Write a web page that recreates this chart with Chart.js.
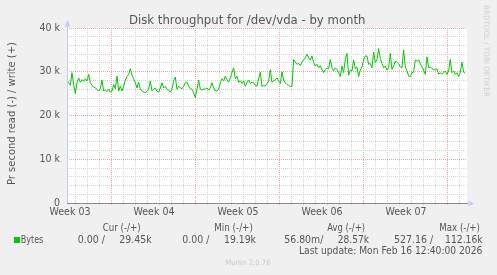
<!DOCTYPE html>
<html>
<head>
<meta charset="utf-8">
<script src="https://cdn.jsdelivr.net/npm/chart.js@4.4.1/dist/chart.umd.min.js"></script>
<style>
html,body{margin:0;padding:0;background:#F0F0F0;}
canvas{display:block;}
</style>
</head>
<body>
<canvas id="c" width="497" height="275"></canvas>
<script>
// ---- data (write throughput, thousands of bytes per second, one sample every ~3.33 h) ----
const stepHours = 3.333;
const spanHours = 800;
const writeK = [
28.1,27.5,26.9,29.8,27.1,25.0,27.5,28.6,27.6,28.2,
27.8,28.4,27.9,29.4,27.5,26.9,26.5,26.3,26.0,25.6,
26.1,28.1,25.6,25.8,25.5,26.0,25.35,25.6,27.1,26.1,
29.0,25.6,26.7,25.6,26.6,28.1,28.9,29.4,30.7,29.2,
28.4,27.5,26.3,27.6,26.0,25.6,25.4,25.2,25.6,26.0,
27.9,25.6,26.0,26.3,25.6,25.35,26.3,27.5,26.3,26.7,
26.0,25.8,25.35,26.0,27.9,28.8,26.0,26.7,26.3,26.1,
26.7,27.5,27.6,26.7,26.1,26.0,25.2,24.1,26.0,28.1,
26.0,25.8,26.1,26.0,26.3,25.8,26.3,27.5,26.3,25.6,
25.6,26.0,27.5,28.4,27.9,29.0,28.2,27.6,28.6,29.8,
30.9,28.4,29.0,27.6,27.9,27.3,27.9,26.7,27.5,28.1,
27.3,27.6,27.5,26.9,26.7,28.4,29.9,26.6,26.9,26.7,
27.3,27.9,30.5,27.6,27.9,28.2,28.6,27.9,27.3,30.0,
28.1,27.5,27.1,26.9,26.6,26.7,32.8,32.2,31.7,31.9,
31.4,32.2,32.7,33.2,34.0,33.2,32.7,33.6,32.1,31.3,
31.7,30.9,31.4,30.5,29.8,30.5,30.9,30.7,32.8,30.9,
30.2,30.9,30.5,29.8,28.9,31.3,29.8,32.8,34.2,29.2,
30.4,30.2,32.7,30.7,31.1,28.9,30.4,31.1,32.7,33.6,
33.6,31.7,31.9,30.9,34.5,32.1,32.7,35.3,33.0,31.9,
30.9,31.3,30.4,30.9,34.2,30.5,31.3,32.4,32.2,31.9,
31.1,30.9,35.0,31.1,30.2,29.0,28.9,29.8,29.9,32.7,
32.4,32.7,31.9,31.1,30.4,29.4,33.4,30.9,31.1,30.7,
30.5,30.4,30.7,29.4,29.8,29.4,29.8,30.2,29.4,30.2,
32.8,29.8,30.2,29.4,29.8,28.9,29.8,32.2,29.9,29.6
];
// x axis: week boundaries (major grid), day lines (minor grid), week labels
const weekStartHours = [88, 256, 424, 592, 760];
const dayLineStart = 16;
const weekLabelHours = [6, 174, 342, 510, 678];
const weekLabels = ['Week 03','Week 04','Week 05','Week 06','Week 07'];
// y axis
const yTickValues = [0, 10, 20, 30, 40];
const yTickLabels = ['0', '10 k', '20 k', '30 k', '40 k'];
const yMinorStep = 2;
// texts
const titleText = 'Disk throughput for /dev/vda - by month';
const yTitle = 'Pr second read (-) / write (+)';
const sideText = 'RRDTOOL / TOBI OETIKER';
const legendHeads = ['Cur (-/+)', 'Min (-/+)', 'Avg (-/+)', 'Max (-/+)'];
const legendName = 'Bytes';
const legendVals = ['0.00 /', '29.45k', '0.00 /', '19.19k', '56.80m/', '28.57k', '527.16 /', '112.16k'];
const lastUpdate = 'Last update: Mon Feb 16 12:40:00 2026';
const footer = 'Munin 2.0.76';

const FONT = "'DejaVu Sans Condensed', 'DejaVu Sans', sans-serif";
const TXT = '#555555';
const GRID = '#d4d4d4';
const MGRID = '#eaa8a8';
const AXIS = '#c4ccf2';
const GREEN = '#00cc00';

function fitText(ctx, s, left, right, base, size, color){
  ctx.save();
  ctx.font = size + 'px ' + FONT;
  ctx.fillStyle = color;
  ctx.textAlign = 'left';
  ctx.textBaseline = 'alphabetic';
  const w = ctx.measureText(s).width;
  const sx = (right - left) / w;
  ctx.translate(left, base);
  ctx.scale(sx, 1);
  ctx.fillText(s, 0, 0);
  ctx.restore();
}

const munin = {
  id: 'munin',
  beforeDraw(chart){
    const {ctx, chartArea:a} = chart;
    ctx.save();
    ctx.fillStyle = '#F0F0F0';
    ctx.fillRect(0,0,chart.width,chart.height);
    ctx.fillStyle = '#FFFFFF';
    ctx.fillRect(a.left, a.top, a.right-a.left, a.bottom-a.top);
    ctx.restore();
  },
  afterDatasetsDraw(chart){
    const {ctx, chartArea:a} = chart;
    const y0 = Math.round(chart.scales.y.getPixelForValue(0)) + 0.5;
    ctx.save();
    ctx.strokeStyle = AXIS; ctx.lineWidth = 1;
    ctx.beginPath(); ctx.moveTo(a.left+0.5, a.top-3); ctx.lineTo(a.left+0.5, y0); ctx.stroke();
    ctx.strokeStyle = '#8a8a9c';
    ctx.beginPath(); ctx.moveTo(a.left, y0); ctx.lineTo(a.right+1, y0); ctx.stroke();
    ctx.fillStyle = AXIS;
    ctx.beginPath(); ctx.moveTo(a.left+0.5, a.top-8); ctx.lineTo(a.left-2.5, a.top-1.5); ctx.lineTo(a.left+3.5, a.top-1.5); ctx.closePath(); ctx.fill();
    ctx.beginPath(); ctx.moveTo(a.right+7, y0); ctx.lineTo(a.right+1.5, y0-3); ctx.lineTo(a.right+1.5, y0+3); ctx.closePath(); ctx.fill();
    ctx.restore();
  },
  afterDraw(chart){
    const ctx = chart.ctx;
    fitText(ctx, titleText, 129, 365.5, 24.3, 12.5, TXT);
    ctx.save();
    ctx.translate(14.7, 185);
    ctx.rotate(-Math.PI/2);
    fitText(ctx, yTitle, 0, 143, 0, 10.5, TXT);
    ctx.restore();
    ctx.save();
    ctx.translate(484, 5);
    ctx.rotate(Math.PI/2);
    fitText(ctx, sideText, 0, 92, 0, 7.5, '#cfcfcf');
    ctx.restore();
    const heads = [[102.7,140.7],[214.3,252.8],[327.3,365],[439.3,480]];
    legendHeads.forEach((h,i)=>fitText(ctx, h, heads[i][0], heads[i][1], 230.7, 10.5, TXT));
    ctx.fillStyle = GREEN;
    ctx.fillRect(14, 237, 6, 6);
    fitText(ctx, legendName, 20.7, 43.3, 242.7, 10.5, TXT);
    const pos = [[77.7,105],[119.3,151.7],[182.3,209.3],[224,256],[284.3,323.3],[337.7,369],[394,433.3],[445,482.7]];
    legendVals.forEach((v,i)=>fitText(ctx, v, pos[i][0], pos[i][1], 242.7, 10.5, TXT));
    fitText(ctx, lastUpdate, 299, 482.3, 254.3, 10.5, TXT);
    fitText(ctx, footer, 225.3, 270.7, 265.3, 7.5, '#c8c8c8');
  }
};

const points = writeK.map((v,i)=>({x: i*stepHours, y: v}));

new Chart(document.getElementById('c'), {
  type: 'line',
  data: { datasets: [{ data: points, borderColor: GREEN, borderWidth: 1, pointRadius: 0, tension: 0, fill: false }] },
  options: {
    responsive: false, animation: false, devicePixelRatio: 1,
    layout: { padding: { left: 0, top: 28, right: 30, bottom: 0 } },
    plugins: { legend: { display: false }, tooltip: { enabled: false } },
    scales: {
      x: {
        type: 'linear', min: 0, max: spanHours,
        afterFit(s){ s.height = 72; },
        afterBuildTicks(s){
          const t = [];
          for (let h = dayLineStart; h <= spanHours; h += 24) t.push({value: h});
          weekLabelHours.forEach(h => t.push({value: h}));
          s.ticks = t;
        },
        grid: {
          color: c => weekLabelHours.includes(c.tick.value) ? 'rgba(0,0,0,0)' : (weekStartHours.includes(c.tick.value) ? MGRID : GRID),
          tickLength: 2, drawTicks: true
        },
        border: { display: false, dash: [1,1] },
        ticks: {
          autoSkip: false, maxRotation: 0, minRotation: 0, padding: 1,
          color: TXT, font: { family: FONT, size: 10.5 },
          callback: v => { const i = weekLabelHours.indexOf(v); return i >= 0 ? weekLabels[i] : ''; }
        }
      },
      y: {
        min: 0, max: 40,
        afterFit(s){ s.width = 67; },
        afterBuildTicks(s){
          const t = [];
          for (let v = 0; v <= 40; v += yMinorStep) t.push({value: v});
          s.ticks = t;
        },
        grid: {
          color: c => (c.tick.value % 10 === 0) ? MGRID : GRID,
          drawTicks: false
        },
        border: { display: false, dash: [1,1] },
        ticks: {
          autoSkip: false, padding: 7, color: TXT, font: { family: FONT, size: 10.5 },
          callback: v => { const i = yTickValues.indexOf(v); return i >= 0 ? yTickLabels[i] : ''; }
        }
      }
    }
  },
  plugins: [munin]
});
</script>
</body>
</html>
